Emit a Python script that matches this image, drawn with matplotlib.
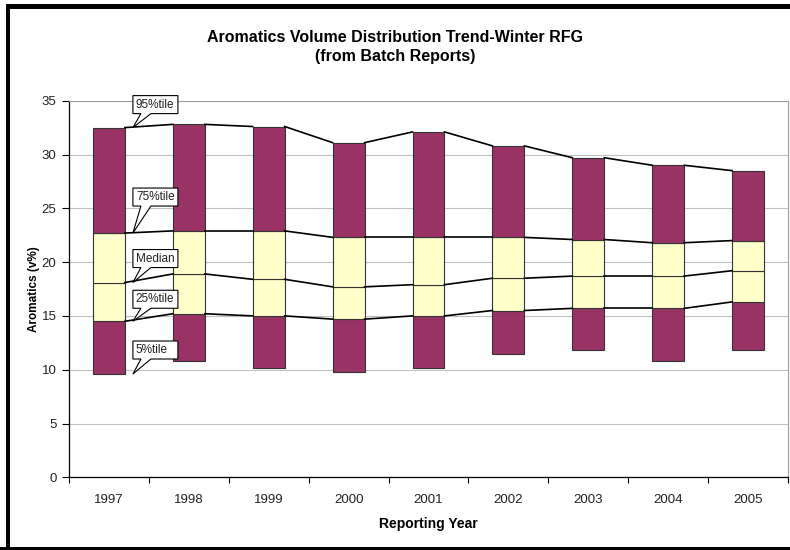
import numpy as np
import matplotlib
matplotlib.use("Agg")
import matplotlib.pyplot as plt
from matplotlib.patches import Rectangle, Polygon

plt.rcParams['font.family'] = ['Liberation Sans', 'DejaVu Sans']

# percentile values per reporting year (v%)
years = ['1997', '1998', '1999', '2000', '2001', '2002', '2003', '2004', '2005']
p5 = [9.6, 10.8, 10.2, 9.8, 10.2, 11.5, 11.8, 10.8, 11.8]
p25 = [14.5, 15.2, 15.0, 14.7, 15.0, 15.5, 15.7, 15.7, 16.3]
p50 = [18.1, 18.9, 18.4, 17.7, 17.9, 18.5, 18.7, 18.7, 19.2]
p75 = [22.7, 22.9, 22.9, 22.3, 22.3, 22.3, 22.1, 21.8, 22.0]
p95 = [32.5, 32.8, 32.6, 31.1, 32.1, 30.8, 29.7, 29.0, 28.5]

purple = '#993366'
yellow = '#ffffcc'
W, H = 790, 550

fig = plt.figure(figsize=(7.9, 5.5), dpi=100)
ax = fig.add_axes([69 / W, (H - 477.3) / H, 719 / W, (477.3 - 100.7) / H])

x = np.arange(len(years))
bw = 0.4
p5a, p25a, p50a, p75a, p95a = map(np.array, (p5, p25, p50, p75, p95))

# stacked segments (bottom one is invisible)
segs = [(p5a, p25a, purple), (p25a, p50a, yellow), (p50a, p75a, yellow), (p75a, p95a, purple)]
for lo, hi, col in segs:
    ax.bar(x, hi - lo, bottom=lo, width=bw, color=col, edgecolor='#333333', linewidth=0.8, zorder=3)

# series lines between bars
for s in (p25a, p50a, p75a, p95a):
    for i in range(len(x) - 1):
        ax.plot([x[i] + bw / 2, x[i + 1] - bw / 2], [s[i], s[i + 1]], color='black', lw=1.2, zorder=4)

ax.set_xlim(-0.5, len(years) - 0.5)
ax.set_ylim(0, 35)
ax.set_yticks(range(0, 36, 5))
ax.yaxis.grid(True, color='#c0c0c0', lw=0.8)
ax.set_axisbelow(True)
ax.set_xticks(x)
ax.set_xticklabels(years, fontsize=9.5, color='#222222')
ax.set_xticks(np.arange(-0.5, len(years), 1), minor=True)
ax.tick_params(axis='x', which='major', length=0, pad=12)
ax.tick_params(axis='x', which='minor', length=4, width=0.8, direction='out')
ax.tick_params(axis='y', length=5, width=0.8, labelsize=9.5, labelcolor='#222222', pad=4)
for sp in ('top', 'right'):
    ax.spines[sp].set_color('#a0a0a0')
    ax.spines[sp].set_linewidth(0.8)
for sp in ('left', 'bottom'):
    ax.spines[sp].set_linewidth(0.9)

ax.set_ylabel('Aromatics (v%)', fontsize=8.5, fontweight='bold', labelpad=1)
ax.set_xlabel('Reporting Year', fontsize=10, fontweight='bold', labelpad=8)

fig.text(0.5, 1 - 37 / H, 'Aromatics Volume Distribution Trend-Winter RFG', ha='center', va='center',
         fontsize=11.5, fontweight='bold')
fig.text(0.5, 1 - 57 / H, '(from Batch Reports)', ha='center', va='center', fontsize=11.5, fontweight='bold')

# callouts near the 1997 bar
callouts = [('95%tile', p95[0], 14), ('75%tile', p75[0], 27), ('Median', p50[0], 15),
            ('25%tile', p25[0], 13), ('5%tile', p5[0], 15)]
fig.canvas.draw()
for lab, val, dy in callouts:
    tx, ty = ax.transData.transform((0.30, val))
    bb = ty + dy
    bw_px, bh_px = 45, 18
    verts = [(tx + 8, bb), (tx, ty), (tx + 18, bb), (tx + bw_px, bb), (tx + bw_px, bb + bh_px),
             (tx, bb + bh_px), (tx, bb)]
    fig.add_artist(Polygon(verts, closed=True, transform=None, facecolor='white',
                           edgecolor='black', lw=0.8, zorder=10))
    fig.text((tx + 3) / W, (bb + bh_px / 2) / H, lab, ha='left', va='center', fontsize=8.5,
             color='#222222', zorder=11)

# outer black frame
for (x0, y0, w, h) in [(6, 0, 4, H - 4), (6, H - 9, W - 6, 5), (0, 0, W, 3)]:
    fig.add_artist(Rectangle((x0 / W, y0 / H), w / W, h / H, transform=fig.transFigure,
                             facecolor='black', edgecolor='none', zorder=12))

fig.savefig('out.png', dpi=100)
